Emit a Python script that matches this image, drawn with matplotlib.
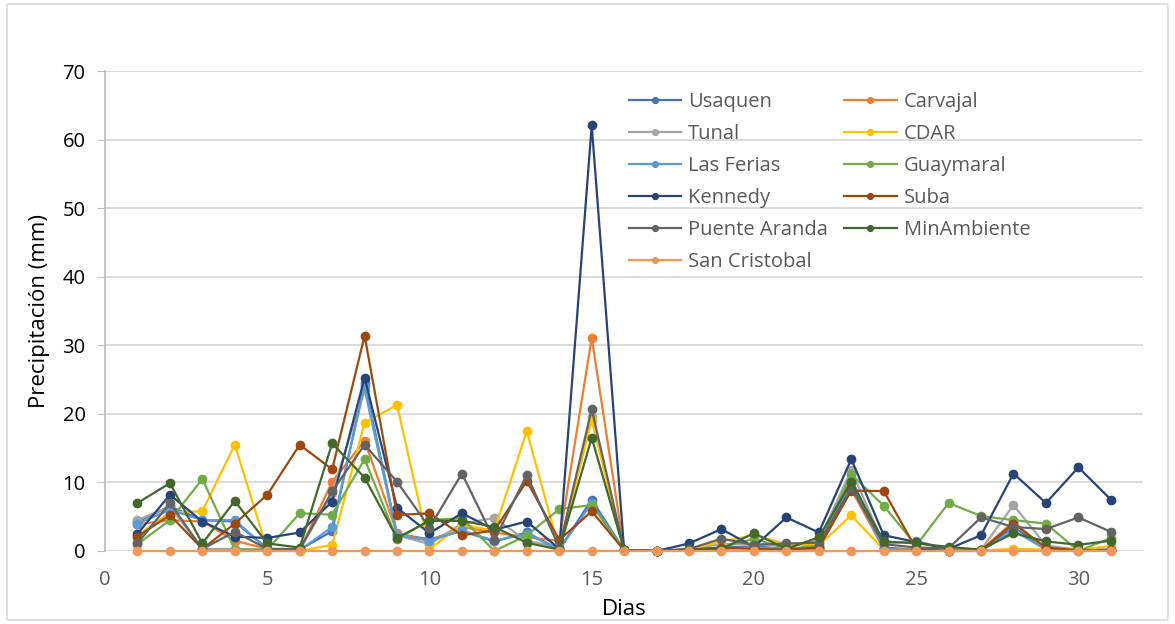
import matplotlib
matplotlib.use("Agg")
import matplotlib.pyplot as plt
from matplotlib.patches import Rectangle

# dias del mes
dias = list(range(1, 32))

usaquen = [4.3, 6.5, 4.5, 4.3, 0.3, 0.2, 2.9, 24.5, 2.5, 1.7, 2.9, 1.4, 2.7, 0.2, 7.5, 0.1,
           0.0, 0.2, 0.5, 0.7, 0.3, 0.5, 10.5, 0.5, 0.2, 0.0, 0.1, 3.5, 0.3, 0.1, 0.2]
carvajal = [3.9, 4.5, 4.3, 1.5, 0.3, 0.1, 10.1, 16.1, 2.6, 1.5, 3.5, 2.7, 2.0, 1.5, 31.1, 0.1,
            0.0, 0.2, 0.4, 0.5, 0.2, 0.3, 9.0, 0.3, 0.1, 0.0, 0.1, 4.3, 0.2, 0.1, 0.1]
tunal = [4.5, 6.5, 0.3, 0.3, 0.2, 0.1, 8.5, 23.5, 2.3, 1.0, 4.0, 4.8, 1.5, 0.5, 19.5, 0.1,
         0.0, 0.3, 1.0, 1.0, 0.8, 1.5, 11.8, 1.0, 1.5, 0.2, 0.2, 6.7, 0.8, 0.2, 0.3]
cdar = [2.3, 5.6, 5.8, 15.5, 0.2, 0.0, 0.9, 18.7, 21.3, 0.3, 3.8, 3.0, 17.5, 0.2, 19.1, 0.1,
        0.0, 0.2, 1.4, 2.3, 1.0, 0.8, 5.2, 0.2, 0.2, 0.0, 0.1, 0.3, 0.2, 0.2, 0.7]
las_ferias = [4.0, 6.0, 4.5, 4.5, 0.3, 0.1, 3.5, 24.0, 2.3, 1.5, 3.0, 1.5, 2.5, 0.2, 7.0, 0.1,
              0.0, 0.1, 0.3, 0.5, 0.3, 0.4, 10.0, 0.3, 0.1, 0.0, 0.0, 3.0, 0.2, 0.1, 0.1]
guaymaral = [1.0, 4.5, 10.5, 0.2, 0.2, 5.5, 5.3, 13.4, 1.7, 4.5, 4.8, 0.0, 2.3, 6.1, 6.7, 0.1,
             0.0, 0.1, 0.5, 1.8, 0.3, 0.8, 11.2, 6.6, 0.8, 7.0, 5.1, 4.5, 4.0, 0.0, 1.9]
kennedy = [2.5, 8.2, 4.3, 2.1, 1.9, 2.7, 7.2, 25.3, 6.3, 2.6, 5.5, 3.1, 4.3, 0.3, 62.1, 0.1,
           0.0, 1.1, 3.2, 0.6, 4.9, 2.7, 13.4, 2.3, 1.3, 0.3, 2.3, 11.3, 7.0, 12.2, 7.5]
suba = [2.1, 5.25, 0.3, 4.0, 8.2, 15.5, 11.9, 31.4, 5.25, 5.5, 2.3, 3.0, 10.2, 1.6, 5.8, 0.1,
        0.0, 0.2, 0.5, 0.3, 0.2, 0.5, 8.8, 8.75, 0.3, 0.0, 0.1, 4.0, 0.5, 0.1, 0.1]
puente_aranda = [1.1, 7.0, 0.3, 2.8, 0.3, 0.3, 8.7, 15.5, 10.1, 3.4, 11.3, 1.6, 11.1, 0.5, 20.7, 0.1,
                 0.0, 0.3, 1.8, 0.9, 1.1, 1.2, 9.2, 1.0, 0.5, 0.4, 4.9, 3.5, 3.2, 4.9, 2.8]
minambiente = [7.0, 9.9, 1.1, 7.3, 1.1, 0.5, 15.7, 10.7, 1.9, 4.4, 4.4, 3.5, 1.2, 0.2, 16.5, 0.1,
               0.0, 0.2, 0.3, 2.6, 0.3, 2.0, 10.1, 1.4, 1.1, 0.6, 0.2, 2.6, 1.4, 0.9, 1.5]
san_cristobal = [0.0] * 31

estaciones = ["Usaquen", "Carvajal", "Tunal", "CDAR", "Las Ferias", "Guaymaral",
              "Kennedy", "Suba", "Puente Aranda", "MinAmbiente", "San Cristobal"]
series = [usaquen, carvajal, tunal, cdar, las_ferias, guaymaral,
          kennedy, suba, puente_aranda, minambiente, san_cristobal]
colores = ["#4472C4", "#ED7D31", "#A5A5A5", "#FFC000", "#5B9BD5", "#70AD47",
           "#264478", "#9E480E", "#636363", "#43682B", "#F1975A"]

plt.rcParams['font.family'] = ['Open Sans', 'DejaVu Sans']

fig = plt.figure(figsize=(11.75, 6.24), dpi=100)
ax = fig.add_axes([0.0894, 0.117, 0.8836, 0.769])

lineas = []
for nombre, valores, c in zip(estaciones, series, colores):
    l, = ax.plot(dias, valores, color=c, lw=1.6, marker='o', ms=6, label=nombre, clip_on=False)
    lineas.append(l)

ax.set_xlim(0, 32)
ax.set_ylim(0, 70)
ax.set_xticks([0, 5, 10, 15, 20, 25, 30])
ax.set_yticks(range(0, 71, 10))
ax.grid(axis='y', color='#D9D9D9', lw=1.3)
ax.set_axisbelow(True)
for s in ['top', 'right', 'bottom']:
    ax.spines[s].set_visible(False)
ax.spines['left'].set_color('#BFBFBF')
ax.spines['left'].set_linewidth(1.3)
ax.tick_params(axis='y', length=6, color='#BFBFBF', labelsize=14.5, labelcolor='#000000', pad=8)
ax.tick_params(axis='x', length=0, labelsize=14.5, labelcolor='#595959', pad=14)

ax.set_ylabel("Precipitación (mm)", fontsize=16, labelpad=9)
ax.set_xlabel("Dias", fontsize=16, labelpad=6)

# leyenda por filas (como Excel)
orden = [0, 2, 4, 6, 8, 10, 1, 3, 5, 7, 9]
leg = ax.legend([lineas[i] for i in orden], [estaciones[i] for i in orden],
                loc='upper left', bbox_to_anchor=(0.487, 0.995), ncol=2, frameon=False,
                fontsize=14.5, handlelength=2.6, handletextpad=0.35, columnspacing=0.8,
                labelspacing=0.6, markerscale=0.7)
for t in leg.get_texts():
    t.set_color('#595959')

fig.patches.append(Rectangle((0.006, 0.006), 0.988, 0.988, transform=fig.transFigure,
                             fill=False, edgecolor='#D9D9D9', lw=1.2))

plt.savefig("out.png", dpi=100)
